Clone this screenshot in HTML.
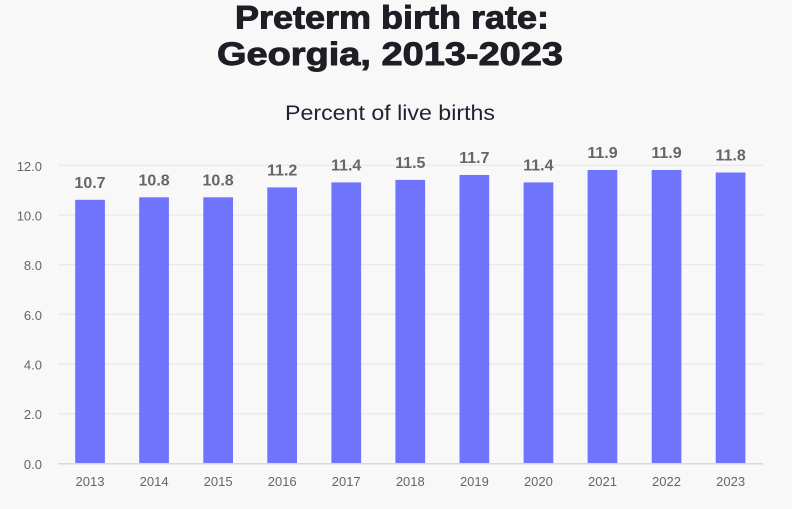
<!DOCTYPE html>
<html>
<head>
<meta charset="utf-8">
<style>
html,body{margin:0;padding:0;background:#f8f8f8;}
svg{display:block;}
</style>
</head>
<body>
<svg width="792" height="509" viewBox="0 0 792 509" xmlns="http://www.w3.org/2000/svg" font-family="'Liberation Sans', sans-serif">
<rect width="792" height="509" fill="#f8f8f8"/>
<!-- Title -->
<text x="392" y="28.5" text-anchor="middle" font-size="32" font-weight="bold" fill="#1d1f25" stroke="#1d1f25" stroke-width="0.9" textLength="314" lengthAdjust="spacingAndGlyphs">Preterm birth rate:</text>
<text x="390" y="65" text-anchor="middle" font-size="32" font-weight="bold" fill="#1d1f25" stroke="#1d1f25" stroke-width="0.9" textLength="346" lengthAdjust="spacingAndGlyphs">Georgia, 2013-2023</text>
<text x="390" y="120" text-anchor="middle" font-size="21" fill="#1f2233" textLength="210" lengthAdjust="spacingAndGlyphs">Percent of live births</text>
<!-- gridlines -->
<g stroke="#e4e4e8" stroke-width="1">
<line x1="58" x2="763" y1="165.3" y2="165.3"/>
<line x1="58" x2="763" y1="215" y2="215"/>
<line x1="58" x2="763" y1="264.7" y2="264.7"/>
<line x1="58" x2="763" y1="314.3" y2="314.3"/>
<line x1="58" x2="763" y1="364" y2="364"/>
<line x1="58" x2="763" y1="413.7" y2="413.7"/>
</g>
<!-- y tick labels -->
<g font-size="13" fill="#666" text-anchor="end">
<text x="42" y="170.8">12.0</text>
<text x="42" y="220.5">10.0</text>
<text x="42" y="270.2">8.0</text>
<text x="42" y="319.8">6.0</text>
<text x="42" y="369.5">4.0</text>
<text x="42" y="419.2">2.0</text>
<text x="42" y="468.8">0.0</text>
</g>
<!-- bars -->
<g fill="#7073fb">
<rect x="75.2" y="199.8" width="29.7" height="263.5"/>
<rect x="139.2" y="197.3" width="29.7" height="266"/>
<rect x="203.3" y="197.3" width="29.7" height="266"/>
<rect x="267.3" y="187.4" width="29.7" height="275.9"/>
<rect x="331.4" y="182.4" width="29.7" height="280.9"/>
<rect x="395.4" y="179.9" width="29.7" height="283.4"/>
<rect x="459.5" y="175.0" width="29.7" height="288.3"/>
<rect x="523.6" y="182.4" width="29.7" height="280.9"/>
<rect x="587.6" y="170.0" width="29.7" height="293.3"/>
<rect x="651.7" y="170.0" width="29.7" height="293.3"/>
<rect x="715.7" y="172.5" width="29.7" height="290.8"/>
</g>
<!-- axis line -->
<line x1="58" x2="763" y1="463.8" y2="463.8" stroke="#d6d6e6" stroke-width="1.5"/>
<!-- value labels -->
<g font-size="16" font-weight="bold" fill="#666" text-anchor="middle">
<text x="90" y="187.8">10.7</text>
<text x="154.1" y="185.3">10.8</text>
<text x="218.1" y="185.3">10.8</text>
<text x="282.2" y="175.4">11.2</text>
<text x="346.2" y="170.4">11.4</text>
<text x="410.3" y="167.9">11.5</text>
<text x="474.4" y="163.0">11.7</text>
<text x="538.4" y="170.4">11.4</text>
<text x="602.5" y="158.0">11.9</text>
<text x="666.5" y="158.0">11.9</text>
<text x="730.6" y="160.5">11.8</text>
</g>
<!-- x labels -->
<g font-size="13" fill="#666" text-anchor="middle">
<text x="90" y="486">2013</text>
<text x="154.1" y="486">2014</text>
<text x="218.1" y="486">2015</text>
<text x="282.2" y="486">2016</text>
<text x="346.2" y="486">2017</text>
<text x="410.3" y="486">2018</text>
<text x="474.4" y="486">2019</text>
<text x="538.4" y="486">2020</text>
<text x="602.5" y="486">2021</text>
<text x="666.5" y="486">2022</text>
<text x="730.6" y="486">2023</text>
</g>
</svg>
</body>
</html>
